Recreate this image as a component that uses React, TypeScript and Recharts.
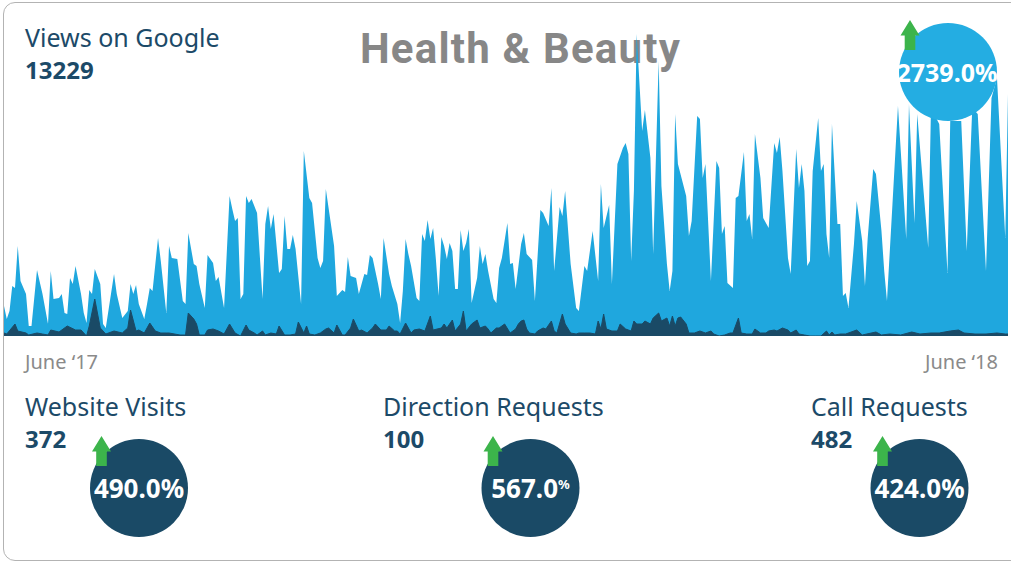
import { AreaChart, Area, XAxis, YAxis } from "recharts";

// daily values, [day since June '17, value]
const viewsByDay: [number, number][] = [
  [0, 30], [1, 17], [2, 25], [3, 50], [4, 48], [5, 90], [6, 55], [8, 42], [9, 10], [10, 10], [12, 66], [14, 42], [16, 12], [17, 65], [18, 37], [20, 38], [21, 42], [22, 23], [23, 22], [24, 58], [25, 52], [26, 70], [28, 42], [29, 23], [30, 13], [31, 46], [32, 42], [33, 67], [35, 52], [36, 12], [37, 8], [40, 62], [41, 42], [43, 18], [45, 25], [46, 52], [47, 42], [48, 51], [49, 32], [51, 17], [52, 32], [53, 48], [54, 45], [56, 98], [57, 75], [59, 23],
  [60, 90], [61, 78], [63, 77], [65, 35], [66, 32], [67, 103], [69, 72], [70, 70], [71, 52], [73, 28], [74, 81], [76, 73], [77, 55], [78, 59], [80, 28], [82, 140], [83, 127], [84, 115], [85, 118], [86, 37], [87, 42], [88, 140], [89, 133], [90, 137], [92, 123], [94, 37], [95, 112], [96, 130], [97, 107], [98, 122], [100, 63], [101, 67], [102, 120], [103, 87], [104, 87], [105, 101], [106, 87], [108, 32], [109, 185], [111, 138], [112, 133], [114, 78], [115, 68], [116, 75], [117, 147], [118, 128],
  [120, 90], [121, 40], [123, 46], [124, 44], [125, 79], [126, 60], [128, 58], [129, 42], [131, 62], [132, 61], [133, 81], [134, 78], [136, 52], [137, 37], [138, 98], [140, 62], [141, 50], [143, 32], [144, 13], [145, 45], [146, 97], [147, 82], [148, 70], [150, 38], [151, 35], [152, 102], [153, 95], [154, 116], [155, 97], [156, 108], [157, 77], [158, 40], [159, 99], [160, 90], [161, 77], [162, 93], [163, 85], [164, 47], [165, 47], [166, 106], [167, 85], [168, 93], [169, 107], [170, 33], [172, 58], [173, 90], [174, 72], [175, 82], [176, 65], [178, 37], [179, 33],
  [180, 68], [181, 78], [183, 113], [184, 72], [185, 73], [186, 47], [188, 92], [189, 103], [190, 82], [192, 76], [193, 35], [195, 126], [196, 123], [198, 110], [199, 148], [200, 65], [202, 129], [203, 120], [204, 145], [206, 72], [208, 28], [209, 25], [211, 70], [212, 65], [214, 105], [216, 55], [217, 152], [218, 108], [220, 131], [221, 52], [223, 172], [225, 188], [226, 193], [227, 182], [228, 75], [229, 145], [230, 302], [232, 205], [233, 226], [235, 178], [236, 82], [238, 275], [239, 150],
  [241, 72], [242, 45], [243, 65], [244, 222], [245, 172], [248, 140], [249, 100], [250, 115], [252, 220], [253, 217], [254, 158], [255, 172], [257, 55], [259, 175], [260, 168], [261, 102], [262, 110], [263, 53], [265, 48], [266, 138], [267, 140], [269, 184], [270, 115], [271, 122], [272, 97], [273, 202], [275, 158], [276, 118], [278, 108], [280, 193], [281, 183], [282, 199], [283, 165], [285, 78], [286, 62], [288, 187], [289, 148], [290, 172], [291, 145], [292, 70], [293, 75], [294, 165], [296, 218], [297, 165], [298, 172], [299, 102],
  [300, 78], [301, 212], [303, 112], [304, 112], [305, 40], [306, 43], [307, 28], [309, 92], [310, 135], [312, 95], [313, 50], [314, 98], [316, 167], [317, 162], [319, 105], [320, 65], [321, 35], [323, 132], [325, 230], [328, 97], [329, 232], [331, 113], [332, 222], [336, 88], [337, 228], [340, 212], [343, 63], [344, 215], [346, 215], [348, 215], [350, 85], [352, 228], [354, 222], [357, 65], [359, 238], [361, 258], [364, 98], [365, 242],
];

const actionsByDay: [number, number][] = [
  [0, 3], [1, 2], [4, 12], [5, 5], [8, 3], [9, 1], [12, 3], [14, 2], [16, 1], [17, 6], [20, 4], [23, 10], [26, 6], [28, 6], [30, 0], [31, 10], [33, 37], [35, 8], [37, 2], [40, 5], [43, 3], [45, 8], [46, 26], [48, 5], [49, 6], [51, 3], [53, 13], [55, 5], [57, 3], [59, 3],
  [60, 3], [64, 1], [66, 1], [67, 23], [69, 17], [70, 12], [71, 1], [73, 1], [74, 6], [76, 7], [78, 5], [80, 2], [82, 12], [84, 3], [86, 0], [88, 11], [89, 6], [91, 3], [92, 1], [94, 5], [95, 1], [97, 3], [99, 2], [100, 10], [102, 1], [104, 1], [106, 2], [107, 14], [109, 3], [110, 10], [111, 2], [113, 1], [115, 3], [117, 7], [118, 8],
  [120, 3], [121, 11], [123, 1], [124, 1], [126, 8], [127, 17], [129, 5], [130, 6], [132, 3], [134, 8], [135, 12], [137, 6], [139, 6], [140, 10], [142, 5], [143, 5], [144, 2], [146, 13], [148, 3], [149, 6], [151, 7], [153, 5], [155, 20], [156, 6], [159, 8], [160, 12], [161, 8], [163, 16], [164, 5], [166, 12], [167, 25], [168, 5], [170, 12], [172, 16], [173, 8], [175, 10], [176, 7], [177, 3], [179, 8],
  [180, 8], [182, 12], [184, 3], [186, 7], [187, 12], [188, 15], [189, 16], [190, 7], [191, 3], [193, 2], [194, 5], [196, 8], [197, 7], [199, 15], [200, 5], [201, 3], [203, 22], [204, 12], [206, 3], [208, 2], [209, 3], [211, 3], [213, 3], [215, 2], [216, 15], [217, 7], [218, 22], [219, 7], [221, 5], [223, 5], [224, 12], [226, 7], [228, 5], [229, 15], [230, 12], [232, 12], [233, 15], [235, 12], [236, 18], [238, 23], [239, 15],
  [241, 18], [242, 10], [243, 20], [244, 10], [245, 18], [246, 19], [248, 12], [249, 3], [251, 3], [253, 5], [255, 3], [257, 5], [258, 2], [260, 0], [262, 1], [264, 3], [265, 3], [267, 18], [268, 3], [270, 2], [272, 2], [273, 7], [275, 3], [277, 3], [278, 5], [280, 6], [281, 5], [283, 8], [285, 6], [286, 3], [288, 6], [289, 2], [291, 1], [293, 0], [295, 0], [297, 0], [299, 5],
  [300, 1], [301, 4], [302, 1], [304, 2], [306, 2], [310, 6], [312, 1], [317, 4], [319, 1], [322, 2], [326, 1], [330, 4], [333, 2], [337, 3], [340, 3], [344, 5], [347, 6], [349, 3], [353, 2], [357, 2], [361, 3], [364, 2], [365, 2],
];

const axisLabels = ["June \u201817", "June \u201818"];
const headline = { title: "Views on Google", total: "13229", change: "2739.0%" };
const metricNames = ["Website Visits", "Direction Requests", "Call Requests"];
const metricTotals = ["372", "100", "482"];
const metricChanges = ["490.0", "567.0", "424.0"];

const LIGHT = "#1fa7de";
const DARK = "#1a4a66";
const GREEN = "#3cb44b";
const TEXT = "#1c4a68";

const viewMap = new Map(viewsByDay);
const actionMap = new Map(actionsByDay);
const chartData: { day: number; views: number | null; actions: number | null }[] = [];
for (let d = 0; d <= 365; d++) {
  const v = viewMap.get(d);
  const a = actionMap.get(d);
  if (v === undefined && a === undefined) continue;
  chartData.push({ day: d, views: v ?? null, actions: a ?? null });
}

function arrowPath(x: number, y: number) {
  return `M${x},${y} L${x + 9.5},${y + 15.5} L${x + 5.3},${y + 15.5} L${x + 5.3},${y + 30} L${x - 5.3},${y + 30} L${x - 5.3},${y + 15.5} L${x - 9.5},${y + 15.5} Z`;
}

const metricPos = [
  { left: 25, cx: 139, ax: 101.5 },
  { left: 383, cx: 530.5, ax: 493 },
  { left: 811, cx: 919.5, ax: 882.5 },
];

export default function App() {
  const font = '"Noto Sans", sans-serif';
  return (
    <div style={{ position: "absolute", left: 0, top: 0, width: 1011, height: 563, overflow: "hidden", background: "#fff", fontFamily: font }}>
      <div style={{ position: "absolute", left: 3, top: 2, width: 1030, height: 557, border: "1px solid #b3b3b3", borderRadius: 12 }} />

      <div style={{ position: "absolute", left: 360, top: 28, fontFamily: "Roboto, sans-serif", fontWeight: 700, fontSize: 42, letterSpacing: 1.2, lineHeight: 1, color: "#878787", whiteSpace: "nowrap" }}>
        Health &amp; Beauty
      </div>

      <div style={{ position: "absolute", left: 4, top: 33 }}>
        <AreaChart width={1004} height={303} data={chartData} margin={{ top: 0, right: 0, bottom: 0, left: 0 }}>
          <XAxis dataKey="day" type="number" domain={[0, 365]} hide />
          <YAxis type="number" domain={[0, 303]} hide allowDataOverflow />
          <Area type="linear" dataKey="views" stroke="none" fill={LIGHT} fillOpacity={1} connectNulls isAnimationActive={false} />
          <Area type="linear" dataKey="actions" stroke={DARK} strokeWidth={1} fill={DARK} fillOpacity={1} connectNulls isAnimationActive={false} />
        </AreaChart>
      </div>

      <div style={{ position: "absolute", left: 25, top: 24.5, fontSize: 25, lineHeight: 1, color: TEXT, whiteSpace: "nowrap" }}>{headline.title}</div>
      <div style={{ position: "absolute", left: 25, top: 58, fontSize: 24, fontWeight: 700, lineHeight: 1, color: TEXT }}>{headline.total}</div>

      <div style={{ position: "absolute", left: 25, top: 351.5, fontSize: 20, lineHeight: 1, color: "#8a8a8a", whiteSpace: "nowrap" }}>{axisLabels[0]}</div>
      <div style={{ position: "absolute", right: 13, top: 351.5, fontSize: 20, lineHeight: 1, color: "#8a8a8a", whiteSpace: "nowrap" }}>{axisLabels[1]}</div>

      {metricNames.map((name, i) => (
        <div key={name}>
          <div style={{ position: "absolute", left: metricPos[i].left, top: 393.8, fontSize: 25, lineHeight: 1, color: TEXT, whiteSpace: "nowrap" }}>{name}</div>
          <div style={{ position: "absolute", left: metricPos[i].left, top: 427, fontSize: 24, fontWeight: 700, lineHeight: 1, color: TEXT }}>{metricTotals[i]}</div>
        </div>
      ))}

      <svg width={1011} height={563} style={{ position: "absolute", left: 0, top: 0, pointerEvents: "none" }}>
        <circle cx={948} cy={72} r={49} fill="#24ade2" />
        <path d={arrowPath(910, 20)} fill={GREEN} />
        <text x={947} y={82} textAnchor="middle" fill="#fff" fontFamily={font} fontWeight={700} fontSize={25}>{headline.change}</text>
        {metricPos.map((p, i) => (
          <g key={i}>
            <circle cx={p.cx} cy={488} r={49} fill={DARK} />
            <path d={arrowPath(p.ax, 436)} fill={GREEN} />
            {i === 1 ? (
              <text x={p.cx} y={498} textAnchor="middle" fill="#fff" fontFamily={font} fontWeight={700} fontSize={26}>
                {metricChanges[i]}
                <tspan fontSize={13} dy={-9}>%</tspan>
              </text>
            ) : (
              <text x={p.cx} y={498} textAnchor="middle" fill="#fff" fontFamily={font} fontWeight={700} fontSize={26}>{metricChanges[i] + "%"}</text>
            )}
          </g>
        ))}
      </svg>
    </div>
  );
}
